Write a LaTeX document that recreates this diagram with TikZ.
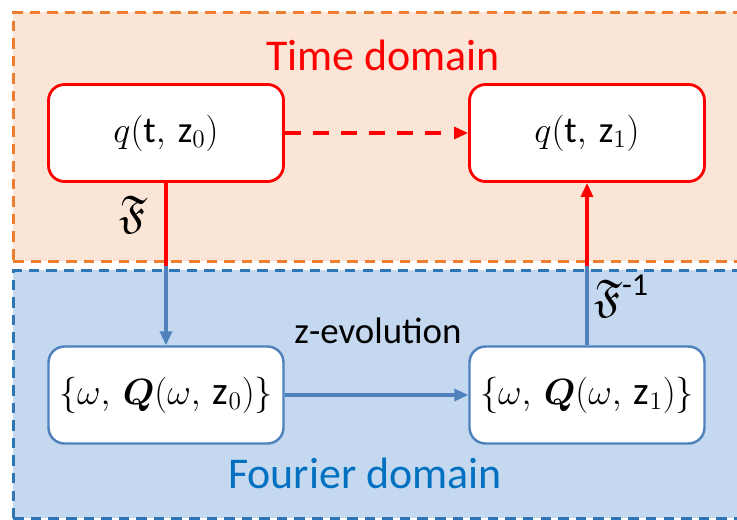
\documentclass[tikz,border=0pt]{standalone}
\usepackage{amsmath, amssymb, bm}
\usepackage{fontspec}
\setmainfont{Carlito}
\usetikzlibrary{positioning, arrows.meta, calc}

\definecolor{timefill}{RGB}{251,229,214}
\definecolor{timeline}{RGB}{237,125,49}
\definecolor{fourfill}{RGB}{196,216,239}
\definecolor{fourline}{RGB}{46,117,182}
\definecolor{boxblue}{RGB}{79,129,189}
\definecolor{fourtext}{RGB}{0,112,192}
\definecolor{timered}{RGB}{255,0,0}

\begin{document}
\begin{tikzpicture}[
    >={Triangle[length=0.28cm, width=0.24cm]},
    domainbox/.style={draw, dashed, dash pattern=on 6pt off 4pt, line width=1.5pt, rectangle, anchor=north west, inner sep=0pt},
    timebox/.style={draw=timered, line width=1.6pt, rectangle, rounded corners=0.32cm, fill=white, minimum width=4.7cm, minimum height=1.94cm, font=\fontsize{21}{25}\selectfont},
    fourbox/.style={draw=boxblue, line width=1.4pt, rectangle, rounded corners=0.32cm, fill=white, inner xsep=0pt, minimum width=4.7cm, minimum height=1.94cm, font=\fontsize{22.5}{27}\selectfont},
    txt/.style={align=center, font=\fontsize{25}{30}\selectfont},
    redarrow/.style={line width=1.8pt, timered},
    bluearrow/.style={line width=1.8pt, boxblue}
]

\clip (0, 0) rectangle (14.74, -10.38);

% Domains
\node[domainbox, draw=timeline, fill=timefill, minimum width=15cm, minimum height=4.98cm] (TD) at (0.24, -0.22) {};
\node[domainbox, draw=fourline, fill=fourfill, minimum width=15cm, minimum height=4.96cm] (FD) at (0.24, -5.38) {};
\node[txt, text=timered] (time_lbl) at (7.66, -1.1) {Time domain};
\node[txt, text=fourtext] (four_lbl) at (7.3, -9.46) {Fourier domain};

% Time domain boxes
\node[timebox] (q0) at (3.32, -2.66) {$q(\mathrm{t},\,\mathrm{z}_0)$};
\node[timebox] (q1) at (11.74, -2.66) {$q(\mathrm{t},\,\mathrm{z}_1)$};
\draw[redarrow, ->, dash pattern=on 9pt off 7pt] (q0.east) -- (q1.west);

% Fourier domain boxes
\node[fourbox] (Q0) at (3.32, -7.9) {$\{\omega,\,\bm{Q}(\omega,\,\mathrm{z}_0)\}$};
\node[fourbox] (Q1) at (11.74, -7.9) {$\{\omega,\,\bm{Q}(\omega,\,\mathrm{z}_1)\}$};
\draw[bluearrow, ->] (Q0.east) -- (Q1.west);
\node[font=\fontsize{21}{25}\selectfont] (zevo) at (7.56, -6.62) {z-evolution};

% Transforms
\coordinate (m0) at (q0 |- 0,-5.32);
\coordinate (m1) at (q1 |- 0,-5.32);
\draw[redarrow] (q0.south) -- (m0);
\draw[bluearrow, ->] (m0) -- (Q0.north);
\draw[bluearrow] (Q1.north) -- (m1);
\draw[redarrow, ->] (m1) -- (q1.south);
\node[font=\fontsize{26}{30}\selectfont] (F) at (2.66, -4.3) {$\mathfrak{F}$};
\node[font=\fontsize{26}{30}\selectfont, anchor=west] (Finv) at (11.76, -5.92) {$\mathfrak{F}^{\text{-1}}$};

\end{tikzpicture}
\end{document}
